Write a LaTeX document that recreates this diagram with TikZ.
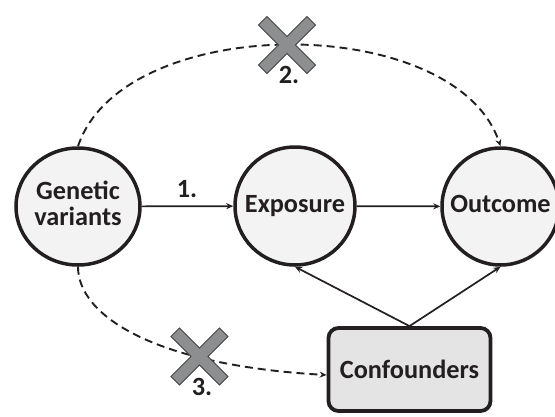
\documentclass[tikz,border=0pt]{standalone}
\usepackage{fontspec}
\setmainfont{Carlito}
\usetikzlibrary{arrows.meta,shapes.geometric}

\definecolor{ink}{HTML}{231F20}
\definecolor{nodefill}{HTML}{F3F3F3}
\definecolor{boxfill}{HTML}{E4E4E4}
\definecolor{crossfill}{HTML}{8D8E90}

% centred text of zero width, so that the node keeps its fixed size
\newcommand{\fixedlabel}[1]{\makebox[0pt]{\begin{tabular}{@{}c@{}}#1\end{tabular}}}

\tikzset{
  bigbold/.style={font=\bfseries\fontsize{26.3}{32}\selectfont},
  varnode/.style={ellipse, draw=ink, line width=3.5pt, fill=nodefill,
    inner sep=0pt, text=ink, bigbold},
  confbox/.style={rectangle, rounded corners=10pt, draw=ink, line width=3.8pt,
    fill=boxfill, minimum width=162pt, minimum height=83pt, inner sep=0pt,
    text=ink, bigbold},
  solidarrow/.style={draw=ink, line width=1.7pt, -{Stealth[length=7pt,width=6pt]}},
  dashedarrow/.style={draw=ink, line width=1.9pt, dash pattern=on 8pt off 5pt,
    -{Stealth[length=7pt,width=6pt]}},
  steplabel/.style={text=ink, bigbold, inner sep=0pt},
  crossstyle/.style={fill=crossfill, draw=ink!85, line width=0.8pt, line join=miter},
  pics/xmark/.style={code={
    \draw[crossstyle] (0,8.5) -- (20,28.5) -- (28.5,20) -- (8.5,0) -- (28.5,-20)
      -- (20,-28.5) -- (0,-8.5) -- (-20,-28.5) -- (-28.5,-20) -- (-8.5,0)
      -- (-28.5,20) -- (-20,28.5) -- cycle;
  }}
}

\begin{document}
\begin{tikzpicture}[x=1pt, y=-1pt]
  \useasboundingbox (0,0) rectangle (555,416);

  % variables of the causal diagram
  \node[varnode, minimum width=124pt, minimum height=117pt] (gen) at (78,206.5)
    {\fixedlabel{Genetic\\[-6pt]variants}};
  \node[varnode, minimum width=120pt, minimum height=118pt] (exp) at (295,206)
    {\fixedlabel{Exposure}};
  \node[varnode, minimum width=117pt, minimum height=117pt] (out) at (500.5,206.5)
    {\fixedlabel{Outcome}};
  \node[confbox] (conf) at (409.5,369.5) {\raisebox{-6pt}{Confounders}};

  % direct causal paths
  \draw[solidarrow] (gen) -- (exp);
  \draw[solidarrow] (exp) -- (out);
  \draw[solidarrow] (conf.north) -- (exp.south);
  \draw[solidarrow] (conf.north) -- (out.south);

  % excluded paths
  \draw[dashedarrow] (gen.north) .. controls +(45,-135) and +(-45,-135) .. (out.north);
  \draw[dashedarrow] (gen.south) .. controls +(0,48) and +(-175,-10) .. ([yshift=-5.5pt]conf.west);

  % crosses marking the violated assumptions
  \pic at (287,45) {xmark};
  \pic at (199.5,356.5) {xmark};

  % assumption numbers
  \node[steplabel] (l1) at (187,189) {1.};
  \node[steplabel] (l2) at (289,75) {2.};
  \node[steplabel] (l3) at (202,387) {3.};
\end{tikzpicture}
\end{document}
